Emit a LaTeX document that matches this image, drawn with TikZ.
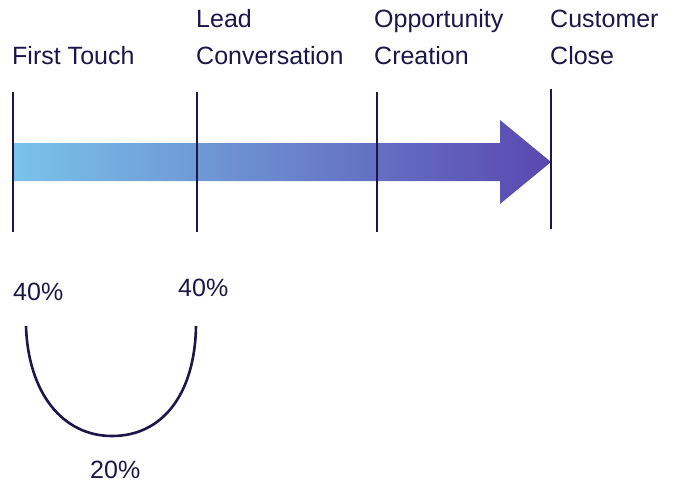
\documentclass[tikz,border=0pt]{standalone}
\usepackage{fontspec}
\setmainfont{Liberation Sans}
\definecolor{ink}{HTML}{1C1649}
\definecolor{barL}{HTML}{7AC4EA}
\definecolor{barR}{HTML}{5A47B0}
\begin{document}
\begin{tikzpicture}[x=1pt,y=-1pt,
  lbl/.style={anchor=base west,inner sep=0pt,text=ink,font=\fontsize{25}{30}\selectfont},
  tick/.style={draw=ink,line width=2.6pt},
  curveline/.style={draw=ink,line width=2.6pt}]
\useasboundingbox (0,0) rectangle (675,485);
% gradient arrow
\shade[left color=barL,right color=barR]
  (13,143) -- (500,143) -- (500,120) -- (551,162) -- (500,204) -- (500,181) -- (13,181) -- cycle;
% stage markers
\coordinate (t1a) at (13,92);  \coordinate (t1b) at (13,232);
\coordinate (t2a) at (197,92); \coordinate (t2b) at (197,232);
\coordinate (t3a) at (377,92); \coordinate (t3b) at (377,232);
\coordinate (t4a) at (551,89); \coordinate (t4b) at (551,229);
\draw[tick] (t1a) -- (t1b);
\draw[tick] (t2a) -- (t2b);
\draw[tick] (t3a) -- (t3b);
\draw[tick] (t4a) -- (t4b);
% labels
\node[lbl] (first) at (12,64) {First Touch};
\node[lbl] (lead1) at (196,27) {Lead};
\node[lbl] (lead2) at (196,64) {Conversation};
\node[lbl] (opp1) at (374,27) {Opportunity};
\node[lbl] (opp2) at (374,64) {Creation};
\node[lbl] (cus1) at (550,27) {Customer};
\node[lbl] (cus2) at (550,64) {Close};
% percentages
\node[lbl] (p1) at (13,300) {40\%};
\node[lbl] (p2) at (178,296) {40\%};
\node[lbl] (p3) at (90,478) {20\%};
% U curve
\coordinate (ca) at (26,326);
\coordinate (cm) at (112,436);
\coordinate (cb) at (196,326);
\draw[curveline] (ca) .. controls (28,392) and (62,436) .. (cm)
  .. controls (164,436) and (195,392) .. (cb);
\end{tikzpicture}
\end{document}
